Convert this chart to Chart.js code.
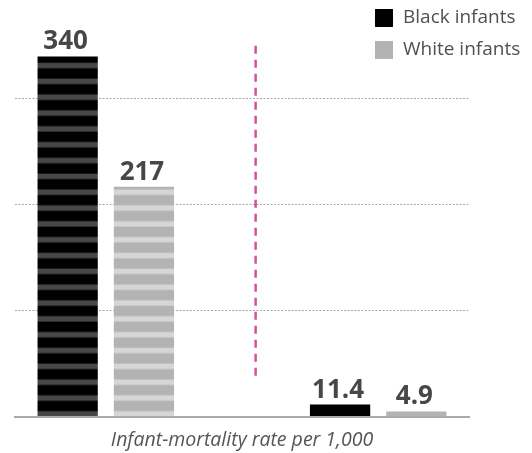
<!DOCTYPE html>
<html>
<head>
<meta charset="utf-8">
<script src="https://cdn.jsdelivr.net/npm/chart.js@4"></script>
<style>
  html, body { margin: 0; padding: 0; background: #fff; }
  #wrap { width: 532px; height: 453px; position: relative; }
</style>
</head>
<body>
<div id="wrap"><canvas id="myChart"></canvas></div>
<script>
// categorias (solo la 1 y la 4 llevan barras, las demas son hueco)
var categorias = ['', 'antes', '', '', 'ahora', ''];
var negros = [null, 340, null, null, 11.4, null];
var blancos = [null, 217, null, null, 4.9, null];
var etiquetas = ['Black infants', 'White infants'];
var tituloX = 'Infant-mortality rate per 1,000';
var lineasGuia = [100, 200, 300];

var rayasCada = 15; // unidades entre raya y raya
var cacheRayas = {};

// patron de rayas horizontales alineado con el cero del eje
function rayas(ctx, base, raya) {
    var chart = ctx.chart;
    var y = chart.scales.y;
    if (ctx.type !== 'data' || !y || ctx.dataIndex !== 1) return base;
    var cero = y.getPixelForValue(0);
    var paso = cero - y.getPixelForValue(rayasCada);
    var key = base + cero.toFixed(2) + paso.toFixed(2);
    if (cacheRayas[key]) return cacheRayas[key];
    var alto = Math.round(paso * 6);
    var p = alto / 6;
    var c = document.createElement('canvas');
    c.width = 8;
    c.height = alto;
    var g = c.getContext('2d');
    g.fillStyle = base;
    g.fillRect(0, 0, 8, alto);
    g.fillStyle = raya;
    for (var k = 0; k < 6; k++) {
        g.fillRect(0, alto - 5.5 - k * p, 8, 5.5);
    }
    var pat = chart.ctx.createPattern(c, 'repeat');
    pat.setTransform(new DOMMatrix([1, 0, 0, 1, 0, cero]));
    cacheRayas[key] = pat;
    return pat;
}

// numeros encima de cada barra
var pluginValores = {
    id: 'valores',
    afterDatasetsDraw: function (chart) {
        var ctx = chart.ctx;
        ctx.save();
        ctx.font = 'bold 26px "Open Sans"';
        ctx.fillStyle = '#474747';
        ctx.textAlign = 'center';
        ctx.textBaseline = 'alphabetic';
        chart.data.datasets.forEach(function (ds, i) {
            chart.getDatasetMeta(i).data.forEach(function (bar, j) {
                if (ds.data[j] == null) return;
                ctx.fillText(String(ds.data[j]), bar.x - 2, bar.y - 7);
            });
        });
        ctx.restore();
    }
};

// linea rosa discontinua que separa los dos grupos
var pluginDivisor = {
    id: 'divisor',
    afterDatasetsDraw: function (chart, args, opts) {
        var ctx = chart.ctx;
        var x = chart.scales.x.getPixelForValue(opts.en);
        ctx.save();
        ctx.strokeStyle = opts.color;
        ctx.lineWidth = 2.5;
        ctx.setLineDash([8, 6]);
        ctx.beginPath();
        ctx.moveTo(x, chart.scales.y.getPixelForValue(opts.desde));
        ctx.lineTo(x, chart.scales.y.getPixelForValue(opts.hasta));
        ctx.stroke();
        ctx.restore();
    }
};

// leyenda arriba a la derecha, en dos filas
var pluginLeyenda = {
    id: 'leyenda',
    afterDraw: function (chart) {
        var ctx = chart.ctx;
        ctx.save();
        ctx.font = '19px "Open Sans"';
        ctx.textBaseline = 'middle';
        chart.data.datasets.forEach(function (ds, i) {
            var y0 = 9 + i * 32;
            ctx.fillStyle = ds.colorLeyenda;
            ctx.fillRect(375, y0, 18, 18);
            ctx.fillStyle = '#505050';
            ctx.fillText(ds.label, 403, y0 + 9);
        });
        ctx.restore();
    }
};

var grafica = new Chart(document.getElementById('myChart'), {
    type: 'bar',
    data: {
        labels: categorias,
        datasets: [{
            label: etiquetas[0],
            data: negros,
            colorLeyenda: '#000000',
            backgroundColor: function (ctx) { return rayas(ctx, '#000000', '#474747'); }
        }, {
            label: etiquetas[1],
            data: blancos,
            colorLeyenda: '#b3b3b3',
            backgroundColor: function (ctx) { return rayas(ctx, '#b3b3b3', '#d6d6d6'); }
        }]
    },
    options: {
        responsive: true,
        maintainAspectRatio: false,
        animation: false,
        categoryPercentage: 1.68,
        barPercentage: 0.79,
        layout: { padding: { left: 15, right: 63, top: 14, bottom: 0 } },
        plugins: {
            legend: { display: false },
            tooltip: { enabled: false },
            divisor: { en: 2.65, desde: 350, hasta: 36, color: '#d6509c' }
        },
        scales: {
            x: {
                offset: false,
                grid: { display: false, drawTicks: false },
                ticks: { display: false },
                border: { display: true, color: '#aaaaaa', width: 2 },
                title: {
                    display: true,
                    text: tituloX,
                    color: '#555',
                    font: { size: 19.5, style: 'italic', family: '"Open Sans"' },
                    padding: { top: 12, bottom: 1 }
                }
            },
            y: {
                min: 0,
                max: 380,
                ticks: { display: false, stepSize: 100 },
                border: { display: false, dash: [2, 1.5] },
                grid: {
                    drawTicks: false,
                    lineWidth: 1,
                    color: function (ctx) {
                        return lineasGuia.indexOf(ctx.tick && ctx.tick.value) >= 0 ? '#a8a8a8' : 'rgba(0,0,0,0)';
                    }
                }
            }
        }
    },
    plugins: [pluginValores, pluginDivisor, pluginLeyenda]
});
</script>
</body>
</html>
